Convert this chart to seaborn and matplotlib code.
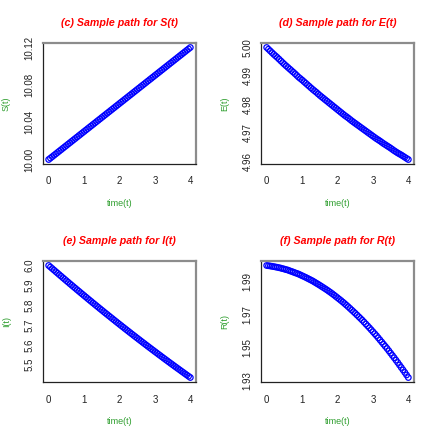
import numpy as np
import pandas as pd
import matplotlib
matplotlib.use("Agg")
import matplotlib.pyplot as plt
import seaborn as sns

time_t = [round(0.05 * k, 2) for k in range(81)]

S_vals = [10.0000, 10.0015, 10.0030, 10.0045, 10.0060, 10.0075, 10.0090, 10.0105, 10.0120, 10.0135,
          10.0150, 10.0165, 10.0180, 10.0195, 10.0210, 10.0225, 10.0240, 10.0255, 10.0270, 10.0285,
          10.0300, 10.0315, 10.0330, 10.0345, 10.0360, 10.0375, 10.0390, 10.0405, 10.0420, 10.0435,
          10.0450, 10.0465, 10.0480, 10.0495, 10.0510, 10.0525, 10.0540, 10.0555, 10.0570, 10.0585,
          10.0600, 10.0615, 10.0630, 10.0645, 10.0660, 10.0675, 10.0690, 10.0705, 10.0720, 10.0735,
          10.0750, 10.0765, 10.0780, 10.0795, 10.0810, 10.0825, 10.0840, 10.0855, 10.0870, 10.0885,
          10.0900, 10.0915, 10.0930, 10.0945, 10.0960, 10.0975, 10.0990, 10.1005, 10.1020, 10.1035,
          10.1050, 10.1065, 10.1080, 10.1095, 10.1110, 10.1125, 10.1140, 10.1155, 10.1170, 10.1185,
          10.1200]
E_vals = [5.0000, 4.9994, 4.9988, 4.9982, 4.9976, 4.99705, 4.9965, 4.9959, 4.9953, 4.9947,
          4.9941, 4.99355, 4.9930, 4.99245, 4.9919, 4.99135, 4.9908, 4.9902, 4.9896, 4.9891,
          4.9886, 4.98805, 4.9875, 4.98695, 4.9864, 4.98585, 4.9853, 4.9848, 4.9843, 4.98375,
          4.9832, 4.9827, 4.9822, 4.9817, 4.9812, 4.9807, 4.9802, 4.9797, 4.9792, 4.9787,
          4.9782, 4.9777, 4.9772, 4.9767, 4.9762, 4.97575, 4.9753, 4.9748, 4.9743, 4.97385,
          4.9734, 4.97295, 4.9725, 4.97205, 4.9716, 4.97115, 4.9707, 4.97025, 4.9698, 4.96935,
          4.9689, 4.96845, 4.9680, 4.9676, 4.9672, 4.96675, 4.9663, 4.9659, 4.9655, 4.9651,
          4.9647, 4.96425, 4.9638, 4.9634, 4.9630, 4.96265, 4.9623, 4.9619, 4.9615, 4.9611,
          4.9607]
I_vals = [6.0000, 5.99225, 5.9845, 5.9768, 5.9691, 5.9614, 5.9537, 5.94605, 5.9384, 5.9308,
          5.9232, 5.9156, 5.9080, 5.9005, 5.8930, 5.8855, 5.8780, 5.8705, 5.8630, 5.8556,
          5.8482, 5.8408, 5.8334, 5.8260, 5.8186, 5.8113, 5.8040, 5.7967, 5.7894, 5.78215,
          5.7749, 5.76765, 5.7604, 5.75325, 5.7461, 5.73895, 5.7318, 5.72465, 5.7175, 5.71045,
          5.7034, 5.69635, 5.6893, 5.6823, 5.6753, 5.6683, 5.6613, 5.65435, 5.6474, 5.6405,
          5.6336, 5.62675, 5.6199, 5.61305, 5.6062, 5.5994, 5.5926, 5.58585, 5.5791, 5.5724,
          5.5657, 5.5590, 5.5523, 5.54565, 5.5390, 5.53235, 5.5257, 5.5191, 5.5125, 5.50595,
          5.4994, 5.4929, 5.4864, 5.47995, 5.4735, 5.46705, 5.4606, 5.45415, 5.4477, 5.44135,
          5.4350]
R_vals = [2.0000, 1.99985, 1.9997, 1.9995, 1.9993, 1.9991, 1.9989, 1.99865, 1.9984, 1.9981,
          1.9978, 1.9975, 1.9972, 1.9968, 1.9964, 1.9960, 1.9956, 1.9952, 1.9948, 1.9943,
          1.9938, 1.9933, 1.9928, 1.99225, 1.9917, 1.99115, 1.9906, 1.98995, 1.9893, 1.98865,
          1.9880, 1.9873, 1.9866, 1.9859, 1.9852, 1.98445, 1.9837, 1.9829, 1.9821, 1.98125,
          1.9804, 1.97955, 1.9787, 1.9778, 1.9769, 1.97595, 1.9750, 1.9740, 1.9730, 1.9720,
          1.9710, 1.96995, 1.9689, 1.96785, 1.9668, 1.96565, 1.9645, 1.96335, 1.9622, 1.9610,
          1.9598, 1.9586, 1.9574, 1.9561, 1.9548, 1.9535, 1.9522, 1.9509, 1.9496, 1.9482,
          1.9468, 1.9454, 1.9440, 1.94255, 1.9411, 1.9396, 1.9381, 1.9366, 1.9351, 1.93355,
          1.9320]

titles = ["(c) Sample path for S(t)", "(d) Sample path for E(t)",
          "(e) Sample path for I(t)", "(f) Sample path for R(t)"]
ylabels = ["S(t)", "E(t)", "I(t)", "R(t)"]
xlabel = "time(t)"
x_ticks = [0, 1, 2, 3, 4]
y_ticks = [
    [10.00, 10.02, 10.04, 10.06, 10.08, 10.10, 10.12],
    [4.96, 4.97, 4.98, 4.99, 5.00],
    [5.5, 5.6, 5.7, 5.8, 5.9, 6.0],
    [1.93, 1.94, 1.95, 1.96, 1.97, 1.98, 1.99, 2.00],
]
y_ticklabels = [
    ["10.00", "", "10.04", "", "10.08", "", "10.12"],
    ["4.96", "4.97", "4.98", "4.99", "5.00"],
    ["5.5", "5.6", "5.7", "5.8", "5.9", "6.0"],
    ["1.93", "", "1.95", "", "1.97", "", "1.99", ""],
]
series = [S_vals, E_vals, I_vals, R_vals]

sns.set_style("white")
plt.rcParams["font.family"] = ["Liberation Sans", "DejaVu Sans"]

fig = plt.figure(figsize=(4.36, 4.36), dpi=100)
W = 436.0
boxes = [(43, 43), (261, 43), (43, 261), (261, 261)]
green = "#2e9e2e"

for i in range(4):
    x0, y0 = boxes[i]
    ax = fig.add_axes([x0 / W, 1 - (y0 + 121) / W, 153 / W, 121 / W])
    df = pd.DataFrame({"t": time_t, "v": series[i]})
    sns.scatterplot(data=df, x="t", y="v", ax=ax, marker="o", s=16,
                    facecolors="none", edgecolor="blue", linewidth=0.9)
    vmin, vmax = min(series[i]), max(series[i])
    pad = 0.04 * (vmax - vmin)
    ax.set_xlim(-0.16, 4.16)
    ax.set_ylim(vmin - pad, vmax + pad)
    ax.set_xticks(x_ticks)
    ax.set_xticklabels([str(v) for v in x_ticks])
    ax.set_yticks(y_ticks[i])
    ax.set_yticklabels(y_ticklabels[i], rotation=90, va="center")
    ax.tick_params(axis="both", direction="out", length=4, width=0.8,
                   color="#222222", labelsize=7, labelcolor="#222222")
    ax.tick_params(axis="x", pad=5)
    ax.tick_params(axis="y", pad=2)
    for side in ["top", "right"]:
        ax.spines[side].set_color("#8c8c8c")
        ax.spines[side].set_linewidth(1.6)
    for side in ["left", "bottom"]:
        ax.spines[side].set_color("#222222")
        ax.spines[side].set_linewidth(0.9)
    ax.set_title(titles[i], color="red", fontsize=7.7, fontweight="bold",
                 fontstyle="italic", pad=12)
    ax.set_xlabel(xlabel, color=green, fontsize=6.5, labelpad=9)
    ax.set_ylabel(ylabels[i], color=green, fontsize=6.5, labelpad=10)
    ax.grid(False)

fig.savefig("out.png", dpi=100, facecolor="white")
